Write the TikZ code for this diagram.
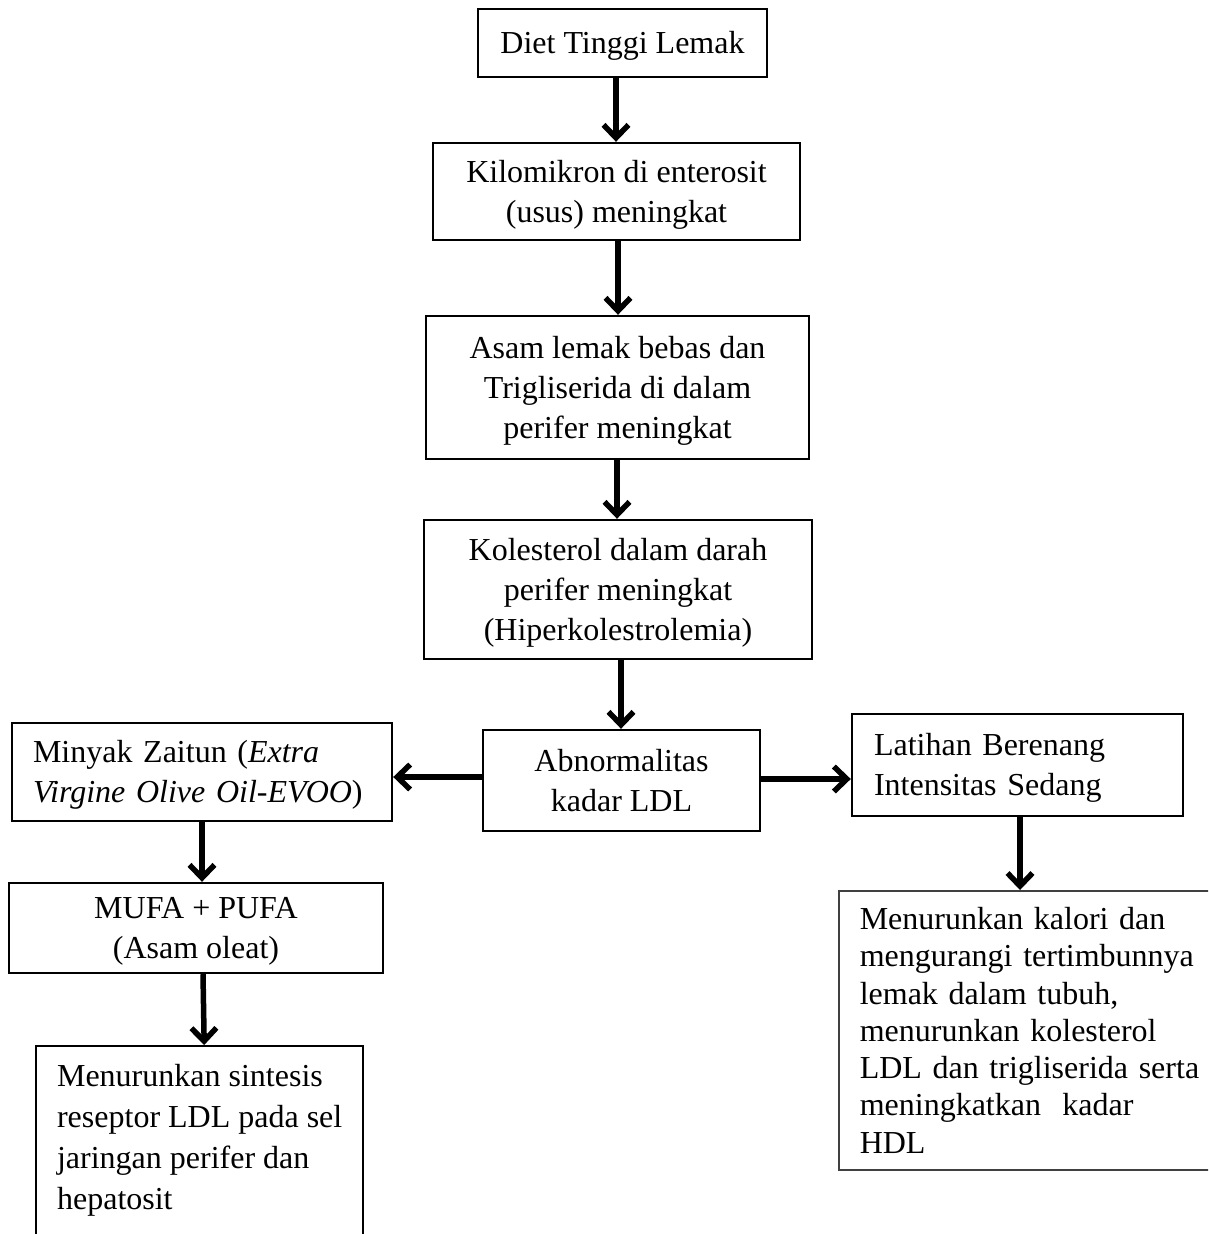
\documentclass[tikz,border=0pt]{standalone}
\usepackage{fontspec}
\setmainfont{Liberation Serif}
\usetikzlibrary{arrows.meta}
\begin{document}
\begin{tikzpicture}[x=1pt,y=-1pt,
  box/.style={draw, line width=2.4pt, inner sep=0pt, align=center,
    font=\fontsize{32}{40}\selectfont},
  lbox/.style={box, align=left},
  thinbox/.style={draw=black!75, line width=1.5pt, align=left,
    font=\fontsize{32}{37.3}\selectfont},
  arr/.style={line width=5.5pt, -{Straight Barb[length=13pt,width=25pt]}}]
\useasboundingbox (0,0) rectangle (1208,1234);
\fill[white] (0,0) rectangle (1208,1234);
\clip (0,0) rectangle (1208,1234);

\node[box, minimum width=289, minimum height=68, text height=25pt, text depth=4pt] (b1) at (622.5,43) {Diet Tinggi Lemak};
\node[box, minimum width=367, minimum height=97, text height=65pt, text depth=4pt] (b2) at (616.5,191.5) {Kilomikron di enterosit\\(usus) meningkat};
\node[box, minimum width=383, minimum height=143, text height=105pt, text depth=4pt] (b3) at (617.5,387.5) {Asam lemak bebas dan\\Trigliserida di dalam\\perifer meningkat};
\node[box, minimum width=388, minimum height=139, text height=105pt, text depth=4pt] (b4) at (618,589.5) {Kolesterol dalam darah\\perifer meningkat\\(Hiperkolestrolemia)};
\node[box, minimum width=277, minimum height=101, text height=65pt, text depth=4pt] (b5) at (621.5,780.5) {Abnormalitas\\kadar LDL};
\node[lbox, text width=338, inner xsep=21, minimum height=98, text height=25pt, text depth=44pt] (b6) at (202,772) {Minyak Zaitun (\textit{Extra}\\\textit{Virgine Olive Oil-EVOO})};
\node[lbox, text width=287, inner xsep=22, minimum height=102, text height=25pt, text depth=44pt] (b7) at (1017.5,765) {Latihan Berenang\\Intensitas Sedang};
\node[box, minimum width=374, minimum height=90, text height=65pt, text depth=4pt] (b8) at (196,928) {MUFA + PUFA\\(Asam oleat)};
\node[lbox, minimum width=327, inner ysep=18, text height=145pt, text depth=77pt,
  font=\fontsize{32}{41}\selectfont, anchor=north west] (b9) at (35,1045)
  {Menurunkan sintesis\\reseptor LDL pada sel\\jaringan perifer dan\\hepatosit};
\node[thinbox, text width=400, inner xsep=21, inner ysep=16.5, anchor=north west] (b10) at (838,890)
  {Menurunkan kalori dan\\mengurangi tertimbunnya\\lemak dalam tubuh,\\menurunkan kolesterol\\LDL dan trigliserida serta\\meningkatkan\ \ kadar\\HDL};

\draw[arr] ([xshift=-6.5]b1.south) -- ([xshift=-0.5]b2.north);
\draw[arr] ([xshift=1.5]b2.south) -- ([xshift=0.5]b3.north);
\draw[arr] ([xshift=-0.5]b3.south) -- ([xshift=-1]b4.north);
\draw[arr] ([xshift=3]b4.south) -- ([xshift=-0.5]b5.north);
\draw[arr] ([yshift=3.5]b5.west) -- ([yshift=-5]b6.east);
\draw[arr] ([yshift=1.5]b5.east) -- ([yshift=-14]b7.west);
\draw[arr] (b6.south) -- ([xshift=6]b8.north);
\draw[arr] ([xshift=7]b8.south) -- ([xshift=4.5]b9.north);
\draw[arr] ([xshift=2.5]b7.south) -- ([xshift=182]b10.north west);
\end{tikzpicture}
\end{document}
